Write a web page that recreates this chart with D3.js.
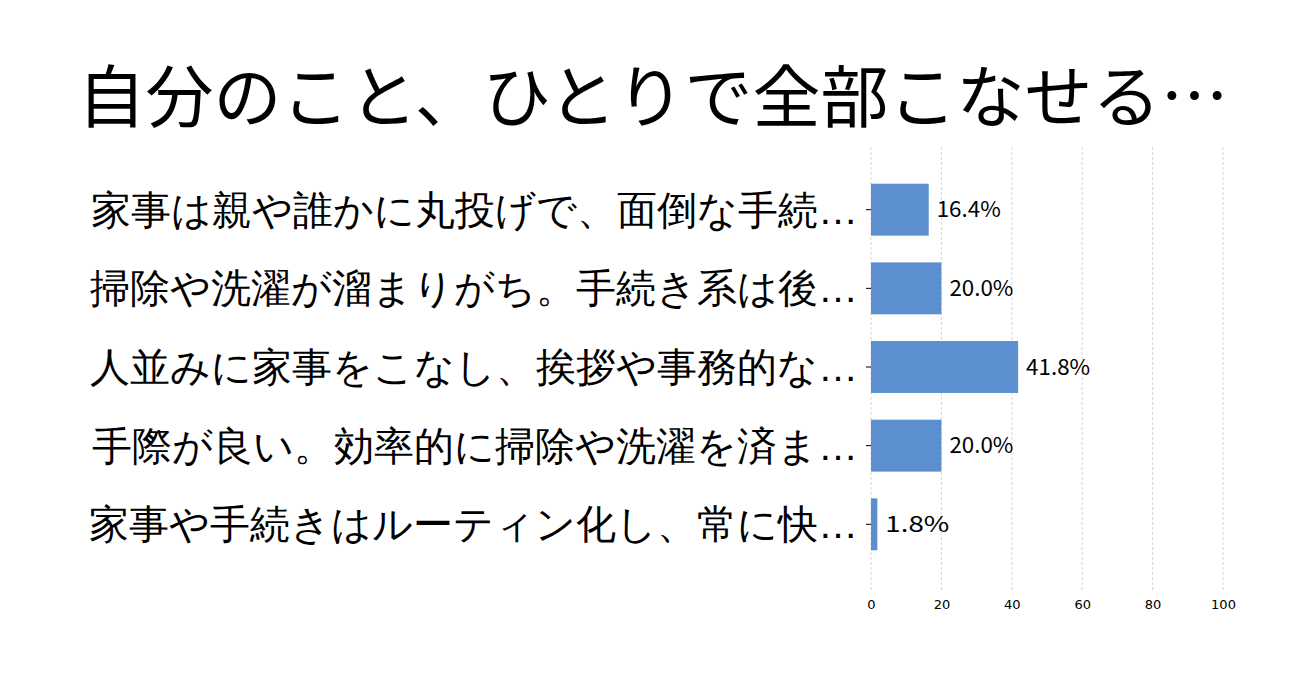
<!DOCTYPE html>
<html><head><meta charset="utf-8">
<script src="https://cdn.jsdelivr.net/npm/d3@7"></script>
<style>body{margin:0;background:#fff}svg{font-family:"Noto Sans CJK JP",sans-serif}</style>
</head><body><div id="chart"></div>
<script>
var title = "自分のこと、ひとりで全部こなせる…";
var categories = ["家事は親や誰かに丸投げで、面倒な手続…","掃除や洗濯が溜まりがち。手続き系は後…","人並みに家事をこなし、挨拶や事務的な…","手際が良い。効率的に掃除や洗濯を済ま…","家事や手続きはルーティン化し、常に快…"];
var values = [16.4, 20.0, 41.8, 20.0, 1.8];
var ticks = [0, 20, 40, 60, 80, 100];

var svg = d3.select("#chart").append("svg").attr("width", 1306).attr("height", 683);
svg.append("text").attr("x", 653).attr("y", 122).attr("text-anchor", "middle")
  .attr("font-size", 68).text(title);

var x = d3.scaleLinear().domain([0, 100]).range([871, 1223]);
var y = d3.scaleBand().domain(categories).range([168, 566]).paddingInner(0.34).paddingOuter(0.2);

svg.selectAll("line.grid").data(ticks).enter().append("line")
  .attr("x1", d => x(d)).attr("x2", d => x(d)).attr("y1", 147).attr("y2", 590)
  .attr("stroke", "#ccc").attr("stroke-width", 0.8).attr("stroke-dasharray", "3,2");

svg.append("g").attr("transform", "translate(0,590)")
  .call(d3.axisBottom(x).tickValues(ticks).tickSize(0).tickPadding(10))
  .call(g => g.select(".domain").remove())
  .selectAll("text").attr("font-size", 13).attr("font-family", "DejaVu Sans").attr("fill", "#000");

svg.append("g").attr("transform", "translate(871,0)")
  .call(d3.axisLeft(y).tickSize(5).tickPadding(8))
  .call(g => g.select(".domain").remove())
  .selectAll("text").attr("font-size", 40).attr("fill", "#000").attr("dy", "0.35em");

svg.selectAll("rect.bar").data(values).enter().append("rect")
  .attr("x", x(0)).attr("y", (d, i) => y(categories[i]))
  .attr("width", d => x(d) - x(0)).attr("height", y.bandwidth()).attr("fill", "#5b8fd0");

svg.selectAll("text.val").data(values).enter().append("text")
  .attr("x", d => x(d) + 8).attr("y", (d, i) => y(categories[i]) + y.bandwidth() / 2)
  .attr("dy", "0.35em").attr("font-size", 22).attr("textLength", (d) => 64).attr("lengthAdjust","spacingAndGlyphs")
  .text(d => d.toFixed(1) + "%");
</script></body></html>
